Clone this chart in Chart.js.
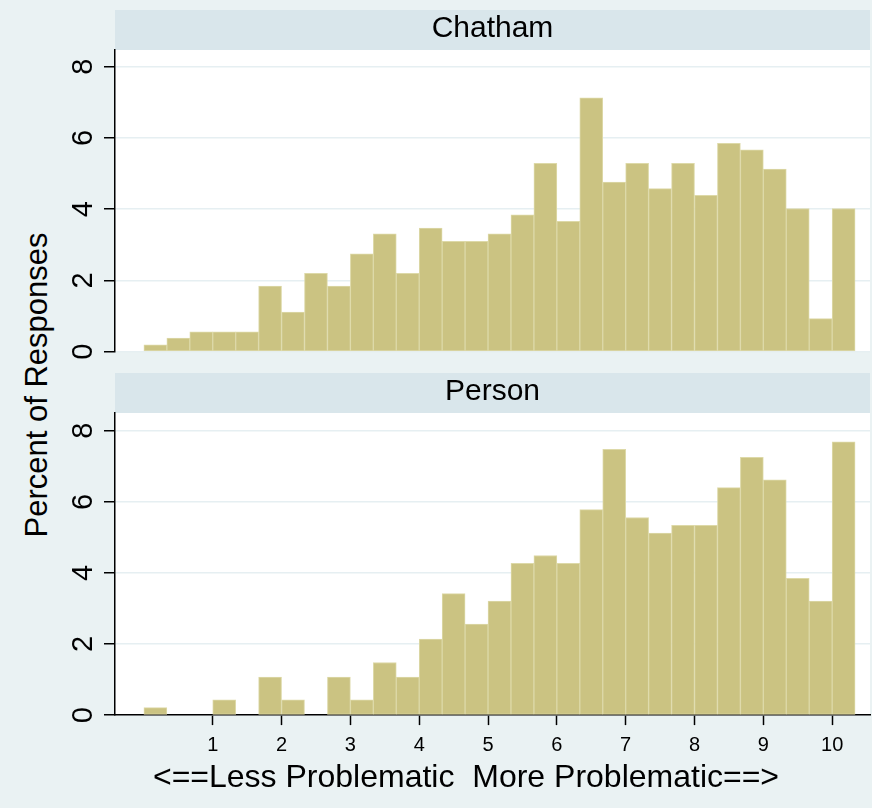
<!DOCTYPE html>
<html>
<head>
<meta charset="utf-8">
<script src="https://cdn.jsdelivr.net/npm/chart.js@4.4.1/dist/chart.umd.min.js"></script>
<style>
  body { margin: 0; background: #eaf2f3; }
  #wrap { position: relative; width: 872px; height: 808px; background: #eaf2f3; overflow: hidden; }
  #wrap canvas { position: absolute; left: 62px; }
  #top { top: 0; }
  #bottom { top: 362px; }
  #ytitle {
    position: absolute; left: -163px; top: 367px; width: 400px;
    line-height: 36px; text-align: center; color: #000;
    font: 31px "Liberation Sans", Arial, sans-serif;
    transform: rotate(-90deg);
  }
</style>
</head>
<body>
<div id="wrap">
  <div id="ytitle"></div>
  <canvas id="top" width="810" height="362"></canvas>
  <canvas id="bottom" width="810" height="446"></canvas>
</div>
<script>
// histogram bins are 1/3 wide, starting at 0
const binWidth = 1 / 3;
const panelNames = ['Chatham', 'Person'];
const chathamPct = [0.19, 0.38, 0.56, 0.56, 0.56, 1.84, 1.11, 2.20, 1.84, 2.75, 3.31,
  2.20, 3.47, 3.10, 3.10, 3.31, 3.84, 5.29, 3.66, 7.13, 4.76, 5.29, 4.58, 5.29, 4.39,
  5.85, 5.67, 5.13, 4.02, 0.93, 4.02];
const personPct = [0.21, 0, 0, 0.43, 0, 1.07, 0.43, 0, 1.07, 0.43, 1.48,
  1.07, 2.14, 3.42, 2.56, 3.21, 4.27, 4.49, 4.27, 5.78, 7.48, 5.56, 5.12, 5.34, 5.34,
  6.40, 7.25, 6.62, 3.85, 3.21, 7.69];
const xTicks = [1, 2, 3, 4, 5, 6, 7, 8, 9, 10];
const yTicks = [0, 2, 4, 6, 8];
const xTitle = '<==Less Problematic  More Problematic==>';
const yTitle = 'Percent of Responses';

const barFill = '#cbc382';
const barEdge = '#ddd9a8';
const stripColor = '#d9e6eb';
const gridColor = '#e6eff2';

Chart.defaults.font.family = "'Liberation Sans', Arial, sans-serif";
Chart.defaults.color = '#000';

document.getElementById('ytitle').textContent = yTitle;

function toPoints(values) {
  return values.map((v, i) => ({ x: (i + 0.5) * binWidth, y: v }));
}

// grey strip behind the panel name + white plot region
const stripPlugin = {
  id: 'strip',
  beforeDraw(chart) {
    const ctx = chart.ctx;
    const a = chart.chartArea;
    const t = chart.titleBlock;
    ctx.save();
    ctx.fillStyle = stripColor;
    ctx.fillRect(a.left, t.top, a.right - a.left, t.height);
    ctx.fillStyle = '#ffffff';
    ctx.fillRect(a.left, a.top, a.right - a.left, a.bottom - a.top);
    ctx.restore();
  }
};

function makePanel(canvasId, name, values, yMax, pad, showX) {
  return new Chart(document.getElementById(canvasId), {
    type: 'bar',
    data: {
      datasets: [{
        data: toPoints(values),
        backgroundColor: barFill,
        borderColor: barEdge,
        borderWidth: 1,
        borderSkipped: false,
        barPercentage: 1,
        categoryPercentage: 1
      }]
    },
    options: {
      responsive: false,
      animation: false,
      layout: { padding: pad },
      plugins: {
        legend: { display: false },
        tooltip: { enabled: false },
        title: {
          display: true,
          text: name,
          fullSize: false,
          font: { size: 30, weight: 'normal' },
          padding: { top: 0.5, bottom: 3.5 }
        },
        subtitle: {
          display: showX,
          text: xTitle,
          position: 'bottom',
          fullSize: true,
          font: { size: 32 },
          padding: { top: 3.5, bottom: 11 }
        }
      },
      scales: {
        x: {
          type: 'linear',
          display: showX,
          offset: false,
          min: -0.42,
          max: 10.55,
          afterBuildTicks: (s) => { s.ticks = xTicks.map(v => ({ value: v })); },
          afterFit: (s) => { if (showX) s.height = 40; },
          grid: { drawOnChartArea: false, offset: false, tickLength: 10, tickColor: '#000', tickWidth: 1.5 },
          border: { color: '#000', width: 1.5 },
          ticks: { font: { size: 20 }, padding: 8, maxRotation: 0, autoSkip: false }
        },
        y: {
          min: 0,
          max: yMax,
          afterBuildTicks: (s) => { s.ticks = yTicks.map(v => ({ value: v })); },
          afterFit: (s) => {
            s.width = 53;
            // labels are small enough, no extra room above/below the plot
            s.paddingTop = 0;
            s.paddingBottom = 0;
          },
          grid: { color: gridColor, lineWidth: 1.5, tickColor: '#000', tickLength: 11, tickWidth: 1.5 },
          border: { color: '#000', width: 1.5 },
          ticks: { font: { size: 29 }, minRotation: 90, maxRotation: 90, crossAlign: 'center', padding: 12 }
        }
      }
    },
    plugins: [stripPlugin]
  });
}

makePanel('top', panelNames[0], chathamPct, 8.47, { top: 10, right: 2, bottom: 10.3, left: 0 }, false);
makePanel('bottom', panelNames[1], personPct, 8.5, { top: 11, right: 2, bottom: 0, left: 0 }, true);
</script>
</body>
</html>
